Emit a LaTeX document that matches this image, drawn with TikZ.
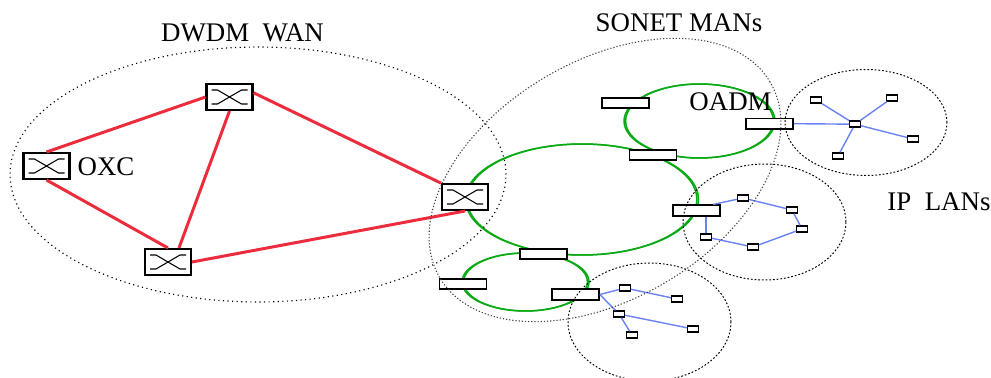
\documentclass[tikz,border=0pt]{standalone}
\usepackage{fontspec}
\setmainfont{Liberation Serif}
\usetikzlibrary{shapes.geometric}

\definecolor{linkred}{RGB}{236,44,60}
\definecolor{ringgreen}{RGB}{10,170,20}
\definecolor{lanblue}{RGB}{105,130,245}

\tikzset{
    oxc/.style={draw, fill=white, line width=1.15pt, inner sep=0pt, minimum width=0.92cm, minimum height=0.52cm},
    oadm/.style={draw, fill=white, line width=0.95pt, inner sep=0pt, minimum width=0.94cm, minimum height=0.21cm},
    router/.style={draw, fill=white, line width=0.8pt, inner sep=0pt, minimum width=0.21cm, minimum height=0.12cm},
    wdmlink/.style={linkred, line width=1.7pt},
    lanlink/.style={lanblue, line width=0.8pt},
    ring/.style={ringgreen, line width=0.85pt},
    caption/.style={inner sep=0pt, font=\fontsize{15.3}{17}\selectfont},
    zone/.style={draw, ellipse, inner sep=0pt, outer sep=0pt},
    wanzone/.style={zone, line width=0.65pt, dash pattern=on 0.65pt off 1.95pt},
    manzone/.style={zone, black!75, line width=0.6pt, dash pattern=on 0.7pt off 1.1pt},
    lanzone/.style={zone, line width=0.55pt, dash pattern=on 1pt off 1.1pt},
}

\begin{document}
\begin{tikzpicture}[x=0.02cm, y=-0.02cm]
            \useasboundingbox (0,0) rectangle (991,378);

            % green rings under the add/drop boxes
            \foreach \cx/\cy/\rx/\ry in {582/199.5/116.5/55.5, 699.5/121/75.5/37, 525.5/282/63.5/29} {
                \draw[ring] (\cx,\cy) ellipse ({\rx} and {\ry});
                \draw[ring] (\cx,\cy) ellipse ({\rx-1.6} and {\ry});
            }

            % optical cross-connects
            \node[oxc] (oxcL) at (46.5,166) {};
            \node[oxc] (oxcT) at (229.5,97) {};
            \node[oxc] (oxcB) at (168,262) {};
            \node[oxc] (oxcR) at (465,197) {};
            \foreach \n in {oxcL, oxcT, oxcB, oxcR} {
                \draw[line width=0.6pt] ([shift={(-18,-7)}]\n.center) -- ++(6,0) -- ++(24,14) -- ++(6,0);
                \draw[line width=0.6pt] ([shift={(-18,7)}]\n.center) -- ++(6,0) -- ++(24,-14) -- ++(6,0);
            }
            \draw[wdmlink] (oxcL.north) -- (oxcT.west);
            \draw[wdmlink] (oxcL.south) -- (oxcB.north);
            \draw[wdmlink] (oxcT.south) -- (oxcB.52);
            \draw[wdmlink] (oxcT.10) -- (oxcR.150);
            \draw[wdmlink] (oxcB.east) -- (oxcR.south);

            % add/drop boxes
            \node[oadm] (adA) at (625.5,103) {};
            \node[oadm] (adB) at (653,155) {};
            \node[oadm] (adC) at (696.5,210.5) {};
            \node[oadm] (adD) at (543.5,254) {};
            \node[oadm] (adE) at (463,284) {};
            \node[oadm] (adF) at (575.5,294.5) {};
            \node[oadm] (adG) at (769.5,123.7) {};

            % star LAN
            \node[router] (hub) at (855,124.2) {};
            \node[router] (topA) at (816,100) {};
            \node[router] (topB) at (892,98) {};
            \node[router] (topC) at (913,139) {};
            \node[router] (topD) at (838,156) {};
            \draw[lanlink] (adG.east) -- (hub);
            \draw[lanlink] (hub) -- (topA);
            \draw[lanlink] (hub) -- (topB);
            \draw[lanlink] (hub) -- (topC);
            \draw[lanlink] (hub) -- (topD);

            % chain LAN
            \node[router] (midA) at (743,198) {};
            \node[router] (midB) at (792,210) {};
            \node[router] (midC) at (802,229) {};
            \node[router] (midD) at (753,247) {};
            \node[router] (midE) at (706,237) {};
            \draw[lanlink] (adC.20) -- (midA);
            \draw[lanlink] (midA) -- (midB);
            \draw[lanlink] (midB) -- (midC);
            \draw[lanlink] (midC) -- (midD);
            \draw[lanlink] (midD) -- (midE);
            \draw[lanlink] (midE |- adC.south) -- (midE);

            % tree LAN
            \node[router] (botA) at (625,288) {};
            \node[router] (botB) at (677,299) {};
            \node[router] (botC) at (619,314) {};
            \node[router] (botD) at (693,329) {};
            \node[router] (botE) at (632,335) {};
            \draw[lanlink] (adF.east) -- (botA);
            \draw[lanlink] (adF.east) -- (botC);
            \draw[lanlink] (botA) -- (botB);
            \draw[lanlink] (botC) -- (botD);
            \draw[lanlink] (botC) -- (botE);

            % dotted outlines go over the boxes
            \node[wanzone, minimum width=9.92cm, minimum height=5.1cm] (wan) at (258,174.5) {};
            \node[manzone, minimum width=7.68cm, minimum height=4.76cm, rotate=30.7] (man) at (605,180) {};
            \node[lanzone, minimum width=3.24cm, minimum height=2.12cm] (lanTop) at (866,122.5) {};
            \node[lanzone, minimum width=3.26cm, minimum height=2.32cm] (lanMid) at (764.5,222) {};
            \node[lanzone, minimum width=3.26cm, minimum height=2.36cm] (lanBot) at (649.5,322) {};

            \node[caption] (wanText) at (242.5,33) {DWDM\ \ WAN};
            \node[caption] (manText) at (679,23) {SONET MANs};
            \node[caption] (oxcText) at (106,167) {OXC};
            \node[caption] (oadmText) at (730.5,102) {OADM};
            \node[caption] (lanText) at (939,202) {IP\ \ LANs};
        \end{tikzpicture}
\end{document}
